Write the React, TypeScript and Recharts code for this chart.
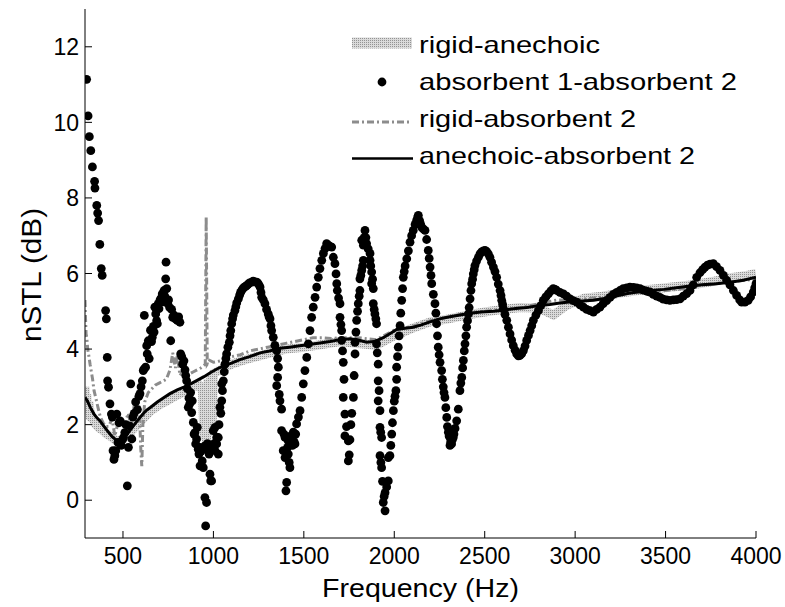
import { ComposedChart, Line, Scatter, XAxis, YAxis } from 'recharts';

// frequency (Hz), nSTL (dB)
const xTicks = [500, 1000, 1500, 2000, 2500, 3000, 3500, 4000];
const yTicks = [0, 2, 4, 6, 8, 10, 12];

const rigidAnechoic = [
  [290, 3.0], [295, 2.4], [300, 2.8], [305, 2.3], [312, 2.6], [320, 2.2], [335, 2.15], [350, 2.0],
  [370, 1.9], [390, 1.85], [410, 1.75], [430, 1.7], [450, 1.62], [470, 1.55], [490, 1.6], [510, 1.65],
  [530, 1.75], [550, 1.85], [570, 1.95], [590, 2.05], [620, 2.2], [650, 2.35], [680, 2.45], [710, 2.55],
  [740, 2.62], [770, 2.7], [800, 2.78], [830, 2.85], [860, 2.93], [890, 3.0], [920, 3.05], [940, 2.9],
  [948, 1.6], [955, 3.1], [962, 1.5], [970, 3.2], [978, 1.7], [986, 3.3], [993, 2.0], [1000, 3.35],
  [1050, 3.48], [1100, 3.6], [1150, 3.68], [1200, 3.75], [1300, 3.88], [1400, 4.0], [1500, 4.05],
  [1600, 4.12], [1700, 4.2], [1800, 4.15], [1900, 4.1], [2000, 4.35], [2100, 4.55], [2200, 4.72],
  [2300, 4.8], [2400, 4.9], [2500, 4.98], [2600, 5.05], [2700, 5.1], [2800, 5.08], [2880, 4.9],
  [2950, 5.15], [3050, 5.35], [3150, 5.4], [3250, 5.48], [3350, 5.55], [3450, 5.6], [3550, 5.65],
  [3650, 5.7], [3750, 5.78], [3850, 5.88], [3950, 5.95], [4000, 6.0],
];

const absorbent1Absorbent2 = [
  [299, 11.14], [307, 10.17], [314, 9.62], [322, 9.25], [331, 8.82], [343, 8.44], [345, 8.26], [355, 7.8],
  [360, 7.6], [365, 7.4], [372, 6.77], [380, 6.13], [385, 5.95],
  [404, 5.02], [408, 4.8], [413, 3.78], [415, 3.16], [420, 2.99], [428, 2.55], [436, 2.28], [441, 2.2],
  [445, 1.31], [450, 1.08], [455, 1.18], [460, 1.31], [466, 2.28], [472, 1.53], [478, 2.05], [484, 2.1],
  [490, 1.45], [497, 1.6], [503, 1.66], [510, 1.79], [516, 2.0], [524, 0.38], [530, 1.4], [536, 1.97],
  [543, 3.08], [549, 1.62], [555, 2.2],
  [562, 2.3], [570, 2.6], [580, 2.4], [588, 2.75], [594, 2.82], [600, 3.0], [607, 3.16], [612, 3.43],
  [616, 3.47], [618, 4.89], [625, 3.52], [631, 4.09], [634, 3.87], [640, 4.22], [645, 3.75], [652, 4.5],
  [658, 4.2], [662, 4.31], [668, 4.6], [672, 4.45], [676, 5.11], [681, 4.93], [686, 4.75], [690, 4.67],
  [695, 5.2], [699, 5.07], [705, 5.3], [711, 5.35], [717, 5.46], [722, 5.25], [727, 5.55], [731, 5.4],
  [736, 5.86], [738, 6.3], [742, 5.6], [748, 5.2], [752, 5.3], [758, 5.1], [764, 4.22], [769, 5.05],
  [775, 4.84], [782, 4.9], [790, 4.8], [800, 4.76], [808, 4.85], [815, 4.71], [819, 3.87], [825, 3.8],
  [830, 3.6], [837, 3.69], [843, 3.45],
  [847, 3.3], [852, 3.16], [856, 2.95], [861, 2.46], [865, 2.7], [869, 2.55], [874, 2.85], [880, 2.32],
  [883, 2.63], [889, 2.06], [893, 1.75], [898, 1.79], [902, 1.49], [907, 1.62], [911, 1.93], [916, 1.35],
  [920, 1.22], [926, 1.4], [926, 0.91], [932, 1.3], [938, 1.04], [944, 0.86], [947, 1.35], [953, 1.44],
  [953, 0.07], [957, -0.68], [962, -0.06], [967, 1.5], [973, 1.35], [976, 1.22], [981, 0.69], [981, 1.44],
  [985, 0.51], [990, 0.51], [994, 1.4], [999, 1.84],
  [1004, 1.5], [1009, 1.31], [1009, 1.93], [1018, 1.49], [1018, 1.66], [1027, 1.22], [1027, 1.66],
  [1031, 2.0], [1036, 2.46], [1041, 2.3], [1046, 2.63], [1046, 3.08], [1050, 2.9], [1055, 3.16],
  [1060, 3.4], [1064, 3.6], [1069, 3.75], [1073, 3.87], [1080, 4.05], [1088, 4.18], [1092, 4.35],
  [1096, 4.49], [1101, 4.67], [1106, 4.8], [1110, 4.9], [1119, 5.02], [1124, 5.12], [1129, 5.22],
  [1138, 5.33], [1145, 5.43], [1150, 5.5], [1156, 5.55], [1163, 5.6], [1170, 5.63], [1177, 5.66],
  [1184, 5.68], [1192, 5.72], [1200, 5.75], [1212, 5.77], [1220, 5.8], [1228, 5.78], [1239, 5.77],
  [1245, 5.75], [1252, 5.7], [1258, 5.64], [1263, 5.5], [1267, 5.37], [1276, 5.3], [1285, 5.2],
  [1294, 5.05], [1303, 4.93], [1308, 4.85], [1313, 4.8], [1318, 4.62], [1322, 4.49], [1331, 4.31],
  [1340, 4.1], [1350, 3.96], [1355, 3.75], [1359, 3.52], [1355, 3.25], [1350, 3.03], [1364, 2.8],
  [1368, 2.63], [1377, 2.41], [1377, 1.84], [1386, 1.31], [1390, 1.75], [1396, 1.66], [1396, 1.13],
  [1401, 0.25], [1405, 0.47], [1410, 1.4], [1414, 1.57], [1414, 1.22], [1419, 1.0], [1423, 0.86],
  [1428, 1.7], [1433, 1.66], [1437, 1.45], [1442, 1.8], [1446, 1.55], [1451, 1.49], [1455, 1.75],
  [1460, 2.02], [1470, 2.2], [1479, 2.37], [1488, 2.72], [1497, 3.08], [1506, 3.43], [1516, 3.78],
  [1525, 4.14], [1534, 4.49], [1543, 4.84], [1552, 5.11], [1562, 5.37], [1571, 5.64], [1580, 5.9],
  [1589, 6.13], [1599, 6.35], [1608, 6.53], [1617, 6.66], [1626, 6.79],
  [1635, 6.75], [1645, 6.72], [1654, 6.7], [1663, 6.43], [1672, 6.26], [1678, 5.99], [1682, 5.73],
  [1685, 5.55], [1692, 5.35], [1700, 5.2], [1700, 4.84], [1705, 4.65], [1709, 4.49], [1709, 4.23],
  [1714, 3.95], [1718, 3.65], [1718, 2.72], [1722, 3.2], [1727, 2.28], [1727, 1.7], [1736, 1.95],
  [1746, 1.57], [1746, 1.04], [1751, 1.2], [1755, 1.6], [1760, 2.0], [1765, 2.3], [1774, 2.72],
  [1778, 3.3],
  [1783, 3.87], [1783, 4.18], [1788, 4.45], [1792, 4.76], [1797, 5.0], [1801, 5.2], [1806, 5.4],
  [1810, 5.55], [1810, 5.86], [1815, 5.95], [1820, 6.08], [1825, 6.2], [1829, 6.35], [1829, 6.75],
  [1820, 6.88], [1833, 6.95], [1838, 7.14], [1843, 6.95], [1847, 6.79], [1856, 6.65], [1866, 6.53],
  [1866, 6.35], [1870, 6.2], [1875, 6.04], [1875, 5.73], [1880, 5.85], [1884, 5.6], [1884, 5.2],
  [1889, 5.05], [1893, 4.93], [1898, 4.8], [1902, 4.67], [1902, 4.14], [1906, 3.9], [1911, 3.6],
  [1911, 3.16], [1911, 2.63], [1916, 2.9], [1921, 2.37], [1921, 1.93], [1925, 1.8], [1930, 1.66],
  [1921, 1.18], [1926, 1.0], [1930, 0.86], [1935, 0.5], [1939, -0.06], [1944, 0.1], [1949, 0.2],
  [1949, -0.28], [1958, 0.35], [1967, 0.51], [1967, 1.13],
  [1976, 1.18], [1981, 1.45], [1986, 1.75], [1990, 2.05], [1995, 2.37], [2000, 2.62], [2004, 2.75],
  [2009, 2.9], [2013, 3.2], [2013, 3.52], [2018, 3.8], [2022, 4.05], [2027, 4.35], [2032, 4.62],
  [2036, 4.95], [2041, 5.29], [2046, 5.6], [2050, 5.9], [2055, 6.05], [2060, 6.2], [2069, 6.39],
  [2078, 6.6], [2087, 6.83], [2096, 7.0], [2105, 7.14], [2115, 7.3], [2124, 7.41], [2130, 7.5],
  [2133, 7.54], [2140, 7.4], [2146, 7.3], [2151, 7.23], [2160, 7.18], [2170, 7.14], [2179, 6.9],
  [2188, 6.61], [2193, 6.4], [2198, 6.17], [2203, 5.95], [2207, 5.73], [2216, 5.45], [2225, 5.2],
  [2230, 4.95], [2234, 4.67], [2239, 4.35], [2243, 4.05], [2248, 3.85], [2253, 3.65], [2262, 3.43],
  [2266, 3.2], [2271, 3.0], [2275, 2.85], [2280, 2.72], [2285, 2.45], [2290, 2.19], [2294, 1.95],
  [2299, 1.8], [2303, 1.7], [2308, 1.66], [2308, 1.45], [2312, 1.55], [2317, 1.49], [2321, 1.6],
  [2326, 1.66], [2330, 1.75],
  [2336, 1.9], [2345, 2.1], [2354, 2.41], [2363, 2.9], [2368, 3.1], [2373, 3.25], [2378, 3.5],
  [2382, 3.7], [2387, 3.95], [2391, 4.14], [2396, 4.35], [2400, 4.58], [2405, 4.75], [2410, 4.93],
  [2414, 5.1], [2419, 5.33], [2424, 5.55], [2428, 5.73], [2433, 5.85], [2437, 5.99], [2442, 6.1],
  [2446, 6.21], [2455, 6.33], [2465, 6.43], [2474, 6.52], [2483, 6.57], [2493, 6.6], [2502, 6.61],
  [2511, 6.58], [2520, 6.52], [2529, 6.43], [2538, 6.3], [2548, 6.17], [2557, 6.05], [2566, 5.9],
  [2575, 5.72], [2585, 5.55], [2590, 5.42], [2594, 5.29], [2599, 5.18], [2603, 5.07], [2612, 4.92],
  [2622, 4.76], [2631, 4.58], [2640, 4.4], [2649, 4.24], [2658, 4.09], [2668, 3.97], [2677, 3.87],
  [2686, 3.82], [2695, 3.83], [2705, 3.88], [2714, 3.96], [2723, 4.08], [2732, 4.23], [2742, 4.36],
  [2751, 4.49], [2760, 4.62], [2769, 4.76], [2783, 4.9], [2797, 5.02], [2810, 5.15], [2824, 5.29],
  [2838, 5.38], [2852, 5.46], [2866, 5.54], [2879, 5.6], [2889, 5.58], [2898, 5.55], [2916, 5.5],
  [2935, 5.46], [2953, 5.4], [2972, 5.33], [2990, 5.28], [3009, 5.24], [3027, 5.17], [3046, 5.11],
  [3064, 5.05], [3082, 5.02], [3101, 4.98], [3119, 5.05], [3137, 5.11], [3155, 5.2], [3174, 5.28],
  [3193, 5.37], [3211, 5.45], [3230, 5.5], [3248, 5.55], [3266, 5.6], [3285, 5.62], [3303, 5.64],
  [3322, 5.63], [3340, 5.62], [3359, 5.6], [3377, 5.56], [3396, 5.53], [3414, 5.51], [3432, 5.45],
  [3451, 5.4], [3469, 5.37], [3487, 5.32], [3506, 5.3], [3524, 5.29], [3543, 5.3], [3561, 5.31],
  [3580, 5.33], [3598, 5.4], [3617, 5.47], [3635, 5.55], [3653, 5.7], [3672, 5.9], [3690, 6.02],
  [3705, 6.1], [3718, 6.17], [3732, 6.22], [3746, 6.25], [3764, 6.26], [3782, 6.18], [3801, 6.08],
  [3820, 5.95], [3838, 5.82], [3856, 5.7], [3875, 5.55], [3893, 5.42], [3910, 5.3], [3921, 5.24],
  [3939, 5.24], [3957, 5.29], [3970, 5.38], [3985, 5.51], [3993, 5.62], [4000, 5.73],
];

const rigidAbsorbent2 = [
  [290, 5.3], [293, 4.8], [296, 4.4], [300, 4.3], [305, 4.0], [312, 3.8], [318, 3.6], [325, 3.4],
  [332, 3.2], [340, 2.9], [350, 2.7], [362, 2.45], [375, 2.2], [390, 2.05], [405, 1.95], [420, 1.95],
  [440, 2.15], [455, 1.7], [470, 2.0], [490, 2.2], [510, 2.05], [530, 2.3], [545, 1.9], [560, 2.45],
  [575, 2.3], [590, 2.5], [598, 1.4], [604, 0.9], [610, 2.0], [620, 2.6], [640, 2.85], [660, 2.95],
  [680, 3.05], [700, 3.1], [720, 3.15], [740, 3.2], [760, 3.45], [775, 3.9], [790, 3.5], [800, 3.85],
  [815, 3.3], [830, 3.4], [850, 3.3], [870, 3.35], [890, 3.4], [910, 3.45], [930, 3.5], [945, 3.55],
  [955, 3.6], [960, 7.5], [966, 3.6], [980, 3.7], [1000, 3.65], [1050, 3.7], [1100, 3.8], [1150, 3.85],
  [1200, 3.95], [1250, 4.0], [1300, 4.05], [1350, 4.1], [1400, 4.15], [1450, 4.2], [1500, 4.25],
  [1550, 4.3], [1600, 4.3], [1650, 4.28], [1700, 4.3], [1800, 4.3], [1900, 4.25], [2000, 4.5],
  [2100, 4.6], [2200, 4.75], [2300, 4.85], [2400, 4.95], [2500, 5.0], [2600, 5.05], [2700, 5.1],
  [2800, 5.2], [2900, 5.3], [3000, 5.3], [3100, 5.35], [3200, 5.4], [3300, 5.5], [3400, 5.5],
  [3500, 5.55], [3600, 5.6], [3700, 5.7], [3800, 5.75], [3900, 5.8], [4000, 5.85],
];

const anechoicAbsorbent2 = [
  [290, 2.72], [303, 2.63], [320, 2.45], [340, 2.28], [356, 2.18], [373, 2.1], [393, 1.97], [413, 1.84],
  [440, 1.68], [469, 1.57], [490, 1.62], [505, 1.7], [524, 1.75], [550, 1.92], [579, 2.1], [610, 2.28],
  [630, 2.38], [653, 2.46], [690, 2.6], [727, 2.72], [760, 2.82], [800, 2.92], [840, 3.0], [874, 3.08],
  [910, 3.17], [948, 3.27], [985, 3.38], [1022, 3.48], [1060, 3.56], [1100, 3.63], [1147, 3.72],
  [1200, 3.8], [1258, 3.9], [1310, 3.95], [1368, 4.02], [1420, 4.05], [1479, 4.09], [1530, 4.12],
  [1589, 4.16], [1645, 4.2], [1700, 4.25], [1755, 4.27], [1800, 4.24], [1847, 4.18], [1890, 4.2],
  [1939, 4.3], [1980, 4.42], [2013, 4.52], [2060, 4.55], [2105, 4.58], [2150, 4.64], [2198, 4.72],
  [2250, 4.8], [2300, 4.85], [2363, 4.9], [2420, 4.95], [2480, 4.98], [2548, 5.0], [2600, 5.03],
  [2658, 5.07], [2732, 5.1], [2800, 5.15], [2860, 5.18], [2916, 5.22], [2980, 5.25], [3040, 5.27],
  [3101, 5.29], [3160, 5.34], [3220, 5.4], [3290, 5.47], [3359, 5.52], [3420, 5.55], [3490, 5.58],
  [3560, 5.62], [3635, 5.67], [3700, 5.7], [3770, 5.72], [3856, 5.77], [3930, 5.82], [4000, 5.9],
];

const pts = (a: number[][]) => a.map(([f, v]) => ({ f, v }));

const FONT = '"Liberation Sans", Arial, sans-serif';
const tickStyle = { fill: '#000', fontSize: 23, fontFamily: FONT };

const Dot = (p: any) => <circle cx={p.cx} cy={p.cy} r={4.4} fill="#000" />;

export default function App() {
  return (
    <div style={{ position: 'relative', width: 785, height: 607, background: '#fff' }}>
      <style>{'body{margin:0}'}</style>
      {/* stipple texture shared by the light band and its legend sample */}
      <svg width={0} height={0} style={{ position: 'absolute' }}>
        <defs>
          <pattern id="stipple" width={2} height={2} patternUnits="userSpaceOnUse">
            <rect width={2} height={2} fill="#dadada" />
            <rect width={1} height={1} fill="#939393" />
          </pattern>
        </defs>
      </svg>
      <ComposedChart width={785} height={607} margin={{ top: 9, right: 29, bottom: 0, left: 0 }}>
        <XAxis xAxisId="b" type="number" dataKey="f" domain={[290, 4000]} ticks={xTicks} interval={0}
          allowDataOverflow height={69} tickSize={-7} tickMargin={17} stroke="#000"
          tickLine={{ stroke: '#000' }} tick={tickStyle} />
        <XAxis xAxisId="t" orientation="top" type="number" dataKey="f" domain={[290, 4000]} ticks={xTicks}
          interval={0} allowDataOverflow height={0} tickSize={-7} stroke="#000" tickLine={{ stroke: '#000' }} tick={false} />
        <YAxis yAxisId="l" type="number" dataKey="v" domain={[-1, 13]} ticks={yTicks} interval={0}
          allowDataOverflow width={85} tickSize={-7} tickMargin={13} stroke="#000"
          tickLine={{ stroke: '#000' }} tick={tickStyle} />
        <YAxis yAxisId="r" orientation="right" type="number" dataKey="v" domain={[-1, 13]} ticks={yTicks}
          interval={0} allowDataOverflow width={0} tickSize={-7} stroke="#000" tickLine={{ stroke: '#000' }} tick={false} />

        <Line xAxisId="b" yAxisId="l" data={pts(rigidAnechoic)} dataKey="v" type="linear" dot={false}
          stroke="url(#stipple)" strokeWidth={9} isAnimationActive={false} />
        <Scatter xAxisId="b" yAxisId="l" data={pts(absorbent1Absorbent2)} shape={Dot} isAnimationActive={false} />
        <Line xAxisId="b" yAxisId="l" data={pts(rigidAbsorbent2)} dataKey="v" type="linear" dot={false}
          stroke="#8c8c8c" strokeWidth={3} strokeDasharray="7 3 2 3" isAnimationActive={false} />
        <Line xAxisId="b" yAxisId="l" data={pts(anechoicAbsorbent2)} dataKey="v" type="linear" dot={false}
          stroke="#000" strokeWidth={3} isAnimationActive={false} />
      </ComposedChart>

      <svg width={785} height={607} style={{ position: 'absolute', left: 0, top: 0, pointerEvents: 'none' }}>
        <g fontFamily={FONT} fill="#000">
          <text x={322} y={597} fontSize={26} textLength={197} lengthAdjust="spacingAndGlyphs">Frequency (Hz)</text>
          <text transform="rotate(-90)" x={-342} y={41} fontSize={28} textLength={134} lengthAdjust="spacingAndGlyphs">nSTL (dB)</text>

          <line x1={352} x2={412} y1={43} y2={43} stroke="url(#stipple)" strokeWidth={11} />
          <text x={419} y={53} fontSize={24} textLength={181} lengthAdjust="spacingAndGlyphs">rigid-anechoic</text>

          <circle cx={382} cy={82} r={4.4} fill="#000" />
          <text x={419} y={90} fontSize={24} textLength={318} lengthAdjust="spacingAndGlyphs">absorbent 1-absorbent 2</text>

          <line x1={352} x2={412} y1={122} y2={122} stroke="#8c8c8c" strokeWidth={3} strokeDasharray="7 3 2 3" />
          <text x={419} y={127} fontSize={24} textLength={217} lengthAdjust="spacingAndGlyphs">rigid-absorbent 2</text>

          <line x1={352} x2={413} y1={158.5} y2={158.5} stroke="#000" strokeWidth={2.5} />
          <text x={419} y={164} fontSize={24} textLength={276} lengthAdjust="spacingAndGlyphs">anechoic-absorbent 2</text>
        </g>
      </svg>
    </div>
  );
}
